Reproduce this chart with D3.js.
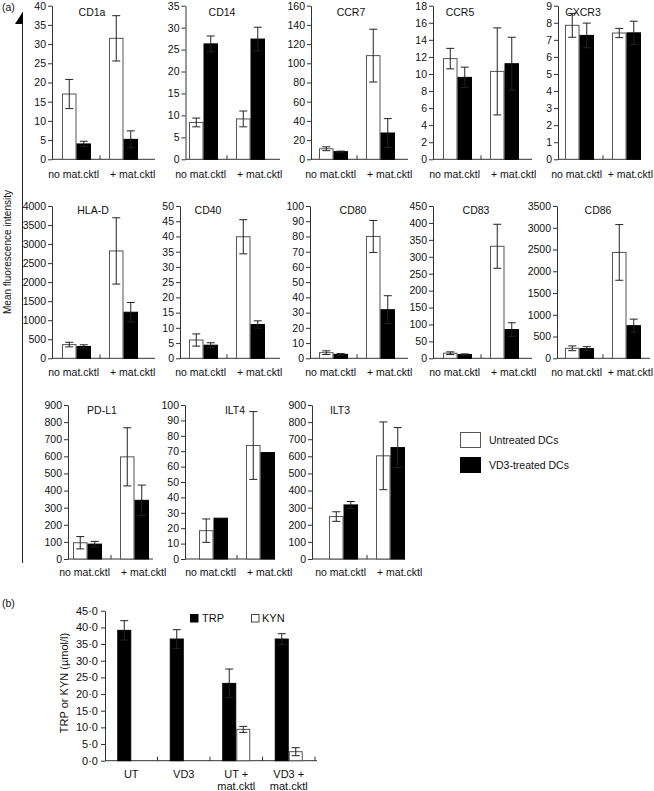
<!DOCTYPE html>
<html><head><meta charset="utf-8">
<script src="https://cdn.jsdelivr.net/npm/d3@7"></script>
<style>body{margin:0;background:#fff}svg{display:block}text{font-family:"Liberation Sans",Arial,Helvetica,sans-serif;fill:#111}</style>
</head><body><svg id="c" width="654" height="791"></svg>
<script>
// ---------- data (panel a) ----------
const markers = ["CD1a","CD14","CCR7","CCR5","CXCR3","HLA-D","CD40","CD80","CD83","CD86","PD-L1","ILT4","ILT3"];
const yMax  = [40,35,160,18,9,4000,50,100,450,3500,900,100,900];
const yStep = [5,5,20,2,1,500,5,10,50,500,100,10,100];
const conditions = ["no mat.cktl","+ mat.cktl"];
const seriesNames = ["Untreated DCs","VD3-treated DCs"];
const untreated    = [[17.0,31.5],[8.4,9.2],[11,108],[11.8,10.3],[7.85,7.4],[360,2820],[6.0,39.9],[3.7,80],[15,331],[230,2433],[95,597],[18.4,73.7],[248,603]];
const untreatedErr = [[3.8,5.9],[1.0,1.8],[2,27.5],[1.2,5.1],[0.7,0.27],[60,870],[2,5.6],[1.2,10.5],[4,65],[55,640],[36,170],[7.6,22],[28,198]];
const vd3          = [[4.0,5.2],[26.3,27.4],[8,27.4],[9.6,11.2],[7.26,7.41],[310,1210],[4.3,11.1],[2.6,31.9],[11,85],[222,750],[87,343],[26.5,69.1],[316,651]];
const vd3Err       = [[0.7,2.2],[1.8,2.7],[0.5,15],[1.2,3.1],[0.72,0.68],[45,255],[0.8,1.2],[0.5,9.2],[2,20],[45,150],[16,89],[0,0],[20,117]];

// ---------- data (panel b) ----------
const bCats = ["UT","VD3","UT + mat.cktl","VD3 + mat.cktl"];
const bCatLines = [["UT"],["VD3"],["UT +","mat.cktl"],["VD3 +","mat.cktl"]];
const bSeries = ["TRP","KYN"];
const trp    = [39.1,36.5,23.2,36.5];
const trpErr = [2.9,2.8,4.3,1.6];
const kyn    = [null,null,9.4,2.7];
const kynErr = [null,null,0.9,1.2];
const bTicks = [0,5,10,15,20,25,30,35,40,45];

// ---------- layout (positions only) ----------
const rows = [{top:5.7,bottom:159.3,lab:178,title:16},{top:206,bottom:358.3,lab:376,title:213.5},{top:405,bottom:559,lab:576,title:414}];
const layout = [
 {row:0,ax:52,g1:62,tx:92,ae:155},{row:0,ax:185.5,g1:189,tx:222,ae:280},{row:0,ax:311,g1:319,tx:351,ae:408},
 {row:0,ax:433,g1:443,tx:460,ae:532},{row:0,ax:558,g1:565,tx:583,ae:641,lend:653},
 {row:1,ax:52,g1:62,tx:93,ae:155},{row:1,ax:180,g1:189,tx:208,ae:280},{row:1,ax:310,g1:319,tx:353,ae:408},
 {row:1,ax:433,g1:443,tx:476,ae:532},{row:1,ax:557,g1:565,tx:598,ae:650,lend:653},
 {row:2,ax:68,g1:73,tx:102,ae:153},{row:2,ax:185,g1:199,tx:235,ae:275},{row:2,ax:312,g1:329,tx:340,ae:405}
];
const FS = 10.5, AX = "#333";
const svg = d3.select("#c");

function styleAxis(g, fs){
  g.select(".domain").attr("stroke",AX);
  g.selectAll(".tick line").attr("stroke",AX);
  g.selectAll(".tick text").attr("font-size",fs).attr("font-family",'"Liberation Sans",Arial,sans-serif').attr("fill","#111");
  g.attr("font-family",null).attr("font-size",null);
}
function errBar(g, cx, y0, y1, cap){
  g.append("line").attr("x1",cx).attr("x2",cx).attr("y1",y0).attr("y2",y1).attr("stroke","#222");
  [y0,y1].forEach(yy=>g.append("line").attr("x1",cx-cap/2).attr("x2",cx+cap/2).attr("y1",yy).attr("y2",yy).attr("stroke","#222"));
}

// ---------- panel a ----------
markers.forEach((m,i)=>{
  const L = layout[i], R = rows[L.row];
  const g = svg.append("g");
  const y = d3.scaleLinear().domain([0,yMax[i]]).range([R.bottom,R.top]);
  const x = d3.scaleBand().domain(conditions).range([L.g1,L.g1+76]).paddingInner(2-76/47).paddingOuter(0);
  const xs = d3.scaleBand().domain(seriesNames).range([0,x.bandwidth()]);
  const ya = g.append("g").attr("transform",`translate(${L.ax},0)`)
    .call(d3.axisLeft(y).tickValues(d3.range(0,yMax[i]+yStep[i]/2,yStep[i])).tickSize(4).tickSizeOuter(0).tickPadding(2).tickFormat(d3.format("d")));
  styleAxis(ya, FS);
  g.append("line").attr("x1",L.ax).attr("x2",L.ae).attr("y1",R.bottom).attr("y2",R.bottom).attr("stroke",AX);
  const mid = (x(conditions[0])+x.bandwidth()+x(conditions[1]))/2;
  g.append("line").attr("x1",mid).attr("x2",mid).attr("y1",R.bottom).attr("y2",R.bottom-4).attr("stroke",AX);
  conditions.forEach((c,k)=>{
    const vals = [untreated[i][k], vd3[i][k]], errs = [untreatedErr[i][k], vd3Err[i][k]];
    seriesNames.forEach((s,j)=>{
      const bx = x(c)+xs(s);
      g.append("rect").attr("x",bx+0.5).attr("y",y(vals[j])).attr("width",xs.bandwidth()-1)
        .attr("height",R.bottom-y(vals[j])).attr("fill",j?"#000":"#fff").attr("stroke",j?"#000":"#555").attr("stroke-width",1);
    });
    seriesNames.forEach((s,j)=>{
      if(!errs[j]) return;
      const cx = x(c)+xs(s)+xs.bandwidth()/2;
      errBar(g, cx, y(Math.max(0,vals[j]-errs[j])), y(vals[j]+errs[j]), 8);
    });
  });
  g.append("text").attr("x",mid-1).attr("y",R.lab).attr("text-anchor","end").attr("font-size",FS).text(conditions[0]);
  if(L.lend) g.append("text").attr("x",L.lend).attr("y",R.lab).attr("text-anchor","end").attr("font-size",FS).text(conditions[1]);
  else g.append("text").attr("x",mid+10).attr("y",R.lab).attr("text-anchor","start").attr("font-size",FS).text(conditions[1]);
  g.append("text").attr("x",L.tx).attr("y",R.title).attr("text-anchor","middle").attr("font-size",FS).text(m);
});

// big axis with arrow
svg.append("line").attr("x1",22.5).attr("x2",22.5).attr("y1",14).attr("y2",563).attr("stroke","#222");
svg.append("path").attr("d","M23,11.5 L23,24 L15,24 Z").attr("fill","#000");
svg.append("text").attr("transform","translate(11,252) rotate(-90)").attr("text-anchor","middle").attr("font-size",10).text("Mean fluorescence intensity");
svg.append("text").attr("x",2).attr("y",11).attr("font-size",FS).text("(a)");

// legend a
seriesNames.forEach((s,j)=>{
  svg.append("rect").attr("x",460.5).attr("y",432.5+j*25).attr("width",20).attr("height",15).attr("fill",j?"#000":"#fff").attr("stroke",j?"#000":"#555");
  svg.append("text").attr("x",489).attr("y",444+j*25).attr("font-size",FS).text(s);
});

// ---------- panel b ----------
{
  const g = svg.append("g");
  const y = d3.scaleLinear().domain([0,45]).range([760.7,610.7]);
  const x = d3.scaleBand().domain(bCats).range([105,315]).padding(0);
  const xs = d3.scaleBand().domain(bSeries).range([x.bandwidth()/2-14, x.bandwidth()/2+14]);
  const ya = g.append("g").attr("transform","translate(105,0)")
    .call(d3.axisLeft(y).tickValues(bTicks).tickSize(4).tickSizeOuter(0).tickPadding(3).tickFormat(d=>d3.format(".1f")(d).replace(".","·")));
  styleAxis(ya, 11);
  g.append("line").attr("x1",105).attr("x2",317).attr("y1",760.7).attr("y2",760.7).attr("stroke",AX);
  bCats.forEach((c,k)=>{
    const xe = x(c)+x.bandwidth();
    g.append("line").attr("x1",xe).attr("x2",xe).attr("y1",760.7).attr("y2",756.7).attr("stroke",AX);
    const vals=[trp[k],kyn[k]], errs=[trpErr[k],kynErr[k]];
    bSeries.forEach((s,j)=>{
      if(vals[j]==null) return;
      g.append("rect").attr("x",x(c)+xs(s)+0.5).attr("y",y(vals[j])).attr("width",xs.bandwidth()-1).attr("height",760.7-y(vals[j]))
        .attr("fill",j?"#fff":"#000").attr("stroke",j?"#555":"#000");
    });
    bSeries.forEach((s,j)=>{
      if(vals[j]==null||!errs[j]) return;
      errBar(g, x(c)+xs(s)+xs.bandwidth()/2, y(vals[j]-errs[j]), y(vals[j]+errs[j]), 8);
    });
    const t = g.append("text").attr("text-anchor","middle").attr("font-size",11);
    bCatLines[k].forEach((ln,li)=>t.append("tspan").attr("x",x(c)+x.bandwidth()/2).attr("y",778+li*12).text(ln));
  });
  g.append("rect").attr("x",190.5).attr("y",614.5).attr("width",7.5).attr("height",7.5).attr("fill","#000").attr("stroke","#000");
  g.append("text").attr("x",202).attr("y",622).attr("font-size",11).text(bSeries[0]);
  g.append("rect").attr("x",251.5).attr("y",614.5).attr("width",7.5).attr("height",7.5).attr("fill","#fff").attr("stroke","#444");
  g.append("text").attr("x",262).attr("y",622).attr("font-size",11).text(bSeries[1]);
  svg.append("text").attr("transform","translate(68,683) rotate(-90)").attr("text-anchor","middle").attr("font-size",11).text("TRP or KYN (µmol/l)");
  svg.append("text").attr("x",2).attr("y",607).attr("font-size",FS).text("(b)");
}
</script></body></html>
